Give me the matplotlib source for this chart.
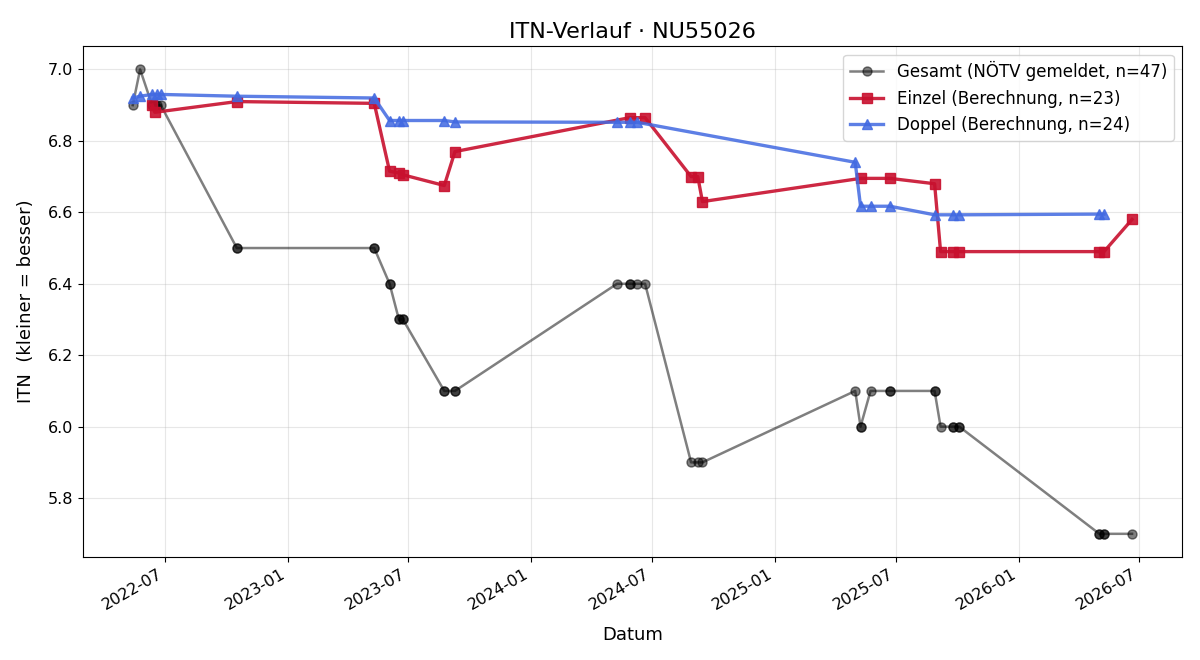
import matplotlib
matplotlib.use("Agg")
import matplotlib.pyplot as plt
import matplotlib.dates as mdates
import pandas as pd

title = "ITN-Verlauf · NU55026"

gesamt_dates = [
    "2022-05-14", "2022-05-25", "2022-06-12", "2022-06-12", "2022-06-16", "2022-06-19", "2022-06-25",
    "2022-10-17", "2022-10-17", "2023-05-11", "2023-05-11", "2023-06-03", "2023-06-03",
    "2023-06-17", "2023-06-17", "2023-06-23", "2023-06-23", "2023-08-24", "2023-08-24",
    "2023-09-09", "2023-09-09", "2024-05-09", "2024-05-28", "2024-05-28", "2024-06-08",
    "2024-06-20", "2024-08-28", "2024-09-07", "2024-09-14", "2025-05-01", "2025-05-09",
    "2025-05-09", "2025-05-24", "2025-06-22", "2025-06-22", "2025-08-28", "2025-08-28",
    "2025-09-06", "2025-09-25", "2025-09-25", "2025-10-04", "2025-10-04", "2026-05-02",
    "2026-05-02", "2026-05-09", "2026-05-09", "2026-06-20",
]
gesamt_itn = [
    6.9, 7.0, 6.9, 6.9, 6.9, 6.9, 6.9,
    6.5, 6.5, 6.5, 6.5, 6.4, 6.4,
    6.3, 6.3, 6.3, 6.3, 6.1, 6.1,
    6.1, 6.1, 6.4, 6.4, 6.4, 6.4,
    6.4, 5.9, 5.9, 5.9, 6.1, 6.0,
    6.0, 6.1, 6.1, 6.1, 6.1, 6.1,
    6.0, 6.0, 6.0, 6.0, 6.0, 5.7,
    5.7, 5.7, 5.7, 5.7,
]

einzel_dates = [
    "2022-06-12", "2022-06-16", "2022-10-17", "2023-05-11", "2023-06-03", "2023-06-17",
    "2023-06-23", "2023-08-24", "2023-09-09", "2024-05-28", "2024-06-20", "2024-08-28",
    "2024-09-07", "2024-09-14", "2025-05-09", "2025-06-22", "2025-08-28", "2025-09-06",
    "2025-09-25", "2025-10-04", "2026-05-02", "2026-05-09", "2026-06-20",
]
einzel_itn = [
    6.90, 6.88, 6.91, 6.905, 6.715, 6.71,
    6.705, 6.675, 6.77, 6.865, 6.865, 6.70,
    6.70, 6.63, 6.695, 6.695, 6.68, 6.49,
    6.49, 6.49, 6.49, 6.49, 6.58,
]

doppel_dates = [
    "2022-05-14", "2022-05-25", "2022-06-12", "2022-06-19", "2022-06-25", "2022-10-17",
    "2023-05-11", "2023-06-03", "2023-06-17", "2023-06-23", "2023-08-24", "2023-09-09",
    "2024-05-09", "2024-05-28", "2024-06-08", "2025-05-01", "2025-05-09", "2025-05-24",
    "2025-06-22", "2025-08-28", "2025-09-25", "2025-10-04", "2026-05-02", "2026-05-09",
]
doppel_itn = [
    6.92, 6.925, 6.93, 6.93, 6.93, 6.925,
    6.92, 6.857, 6.857, 6.857, 6.857, 6.853,
    6.852, 6.852, 6.852, 6.74, 6.617, 6.617,
    6.617, 6.593, 6.593, 6.593, 6.595, 6.595,
]

fig, ax = plt.subplots(figsize=(12, 6.6), dpi=100)

ax.plot(pd.to_datetime(gesamt_dates), gesamt_itn, "-o", color="black", alpha=0.5,
        lw=1.8, ms=6.5, label=f"Gesamt (NÖTV gemeldet, n={len(gesamt_itn)})")
ax.plot(pd.to_datetime(einzel_dates), einzel_itn, "-s", color="#c8102e", alpha=0.9,
        lw=2.4, ms=7.5, label=f"Einzel (Berechnung, n={len(einzel_itn)})")
ax.plot(pd.to_datetime(doppel_dates), doppel_itn, "-^", color="#4169e1", alpha=0.85,
        lw=2.4, ms=7.5, label=f"Doppel (Berechnung, n={len(doppel_itn)})")

ax.xaxis.set_major_locator(mdates.MonthLocator(bymonth=[1, 7]))
ax.xaxis.set_major_formatter(mdates.DateFormatter("%Y-%m"))
ax.tick_params(labelsize=11.5)
ax.grid(True, alpha=0.3)
ax.set_title(title, fontsize=16)
ax.set_xlabel("Datum", fontsize=13, labelpad=9)
ax.set_ylabel("ITN  (kleiner = besser)", fontsize=13, labelpad=9)
ax.legend(loc="upper right", fontsize=12)
fig.autofmt_xdate()
fig.subplots_adjust(left=0.069, right=0.985, bottom=0.156, top=0.930)
fig.savefig("out.png", dpi=100)
